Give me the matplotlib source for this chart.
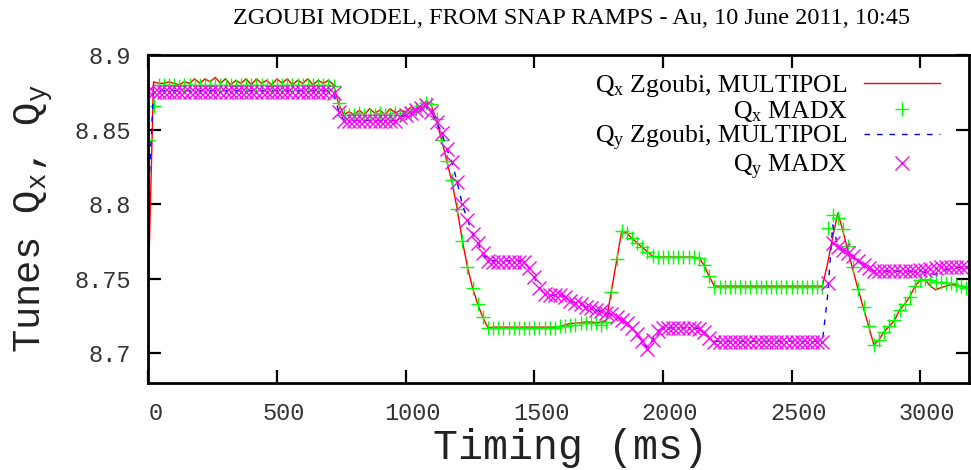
import numpy as np
import matplotlib
matplotlib.use('Agg')
import matplotlib.pyplot as plt
import matplotlib.transforms as mtransforms

plt.rcParams['mathtext.fontset'] = 'custom'
plt.rcParams['mathtext.rm'] = 'Liberation Serif'
plt.rcParams['mathtext.tt'] = 'Liberation Mono'

# timing grid (ms), one sample every 20 ms
timing = np.arange(0, 3200, 20)

# Qx, MADX (green +)
qx_madx = [
    8.843, 8.866, 8.880, 8.880, 8.880, 8.880, 8.879, 8.880, 8.880, 8.880,   # 0-180
    8.880, 8.880, 8.879, 8.880, 8.880, 8.880, 8.880, 8.879, 8.880, 8.880,   # 200-380
    8.880, 8.880, 8.880, 8.880, 8.879, 8.880, 8.880, 8.880, 8.880, 8.880,   # 400-580
    8.880, 8.880, 8.880, 8.880, 8.880, 8.880, 8.879, 8.868, 8.860, 8.860,   # 600-780
    8.860, 8.861, 8.860, 8.860, 8.860, 8.861, 8.860, 8.860, 8.861, 8.860,   # 800-980
    8.861, 8.862, 8.864, 8.866, 8.868, 8.867, 8.857, 8.843, 8.829, 8.816,   # 1000-1180
    8.797, 8.775, 8.758, 8.744, 8.733, 8.7245, 8.717, 8.717, 8.717, 8.717,  # 1200-1380
    8.717, 8.717, 8.717, 8.717, 8.717, 8.717, 8.717, 8.717, 8.717, 8.717,   # 1400-1580
    8.718, 8.718, 8.719, 8.719, 8.720, 8.720, 8.720, 8.720, 8.719, 8.721,   # 1600-1780
    8.741, 8.763, 8.782, 8.7805, 8.777, 8.774, 8.771, 8.768, 8.765, 8.7645, # 1800-1980
    8.7645, 8.7645, 8.7645, 8.7645, 8.7645, 8.7645, 8.7645, 8.764, 8.759, 8.7515,  # 2000-2180
    8.7447, 8.7447, 8.7447, 8.7447, 8.7447, 8.7447, 8.7447, 8.7447, 8.7447, 8.7447,  # 2200-2380
    8.7447, 8.7447, 8.7447, 8.7447, 8.7447, 8.7447, 8.7447, 8.7447, 8.7447, 8.7447,  # 2400-2580
    8.7447, 8.7447, 8.784, 8.793, 8.791, 8.783, 8.772, 8.758, 8.743, 8.731,  # 2600-2780
    8.718, 8.7056, 8.709, 8.7145, 8.718, 8.722, 8.729, 8.733, 8.738, 8.745, # 2800-2980
    8.749, 8.750, 8.749, 8.748, 8.748, 8.747, 8.747, 8.746, 8.745, 8.744,   # 3000-3180
]

# Qx, Zgoubi MULTIPOL (red line)
qx_zgoubi = [
    8.745, 8.882, 8.881, 8.881, 8.882, 8.881, 8.880, 8.882, 8.881, 8.884,
    8.881, 8.884, 8.882, 8.885, 8.881, 8.884, 8.880, 8.883, 8.881, 8.884,
    8.880, 8.884, 8.881, 8.883, 8.880, 8.884, 8.881, 8.884, 8.880, 8.883,
    8.881, 8.884, 8.880, 8.883, 8.881, 8.883, 8.880, 8.867, 8.860, 8.862,
    8.860, 8.863, 8.860, 8.864, 8.861, 8.863, 8.860, 8.864, 8.861, 8.863,
    8.862, 8.865, 8.863, 8.866, 8.869, 8.866, 8.856, 8.843, 8.829, 8.815,
    8.797, 8.776, 8.758, 8.744, 8.733, 8.724, 8.717, 8.7175, 8.7175, 8.7175,
    8.7175, 8.7175, 8.7175, 8.7175, 8.7175, 8.7175, 8.7175, 8.7175, 8.7175, 8.7175,
    8.718, 8.719, 8.720, 8.720, 8.7205, 8.721, 8.721, 8.7205, 8.721, 8.722,
    8.742, 8.762, 8.782, 8.7805, 8.777, 8.774, 8.771, 8.768, 8.765, 8.7645,
    8.7645, 8.7645, 8.7645, 8.7645, 8.7645, 8.7645, 8.7645, 8.764, 8.759, 8.7515,
    8.745, 8.745, 8.745, 8.745, 8.745, 8.745, 8.745, 8.745, 8.745, 8.745,
    8.745, 8.745, 8.745, 8.745, 8.745, 8.745, 8.745, 8.745, 8.745, 8.745,
    8.745, 8.745, 8.760, 8.778, 8.794, 8.782, 8.768, 8.755, 8.742, 8.730,
    8.718, 8.7056, 8.709, 8.7145, 8.718, 8.722, 8.729, 8.733, 8.738, 8.745,
    8.749, 8.749, 8.745, 8.7425, 8.744, 8.745, 8.746, 8.746, 8.745, 8.744,
]

# Qy, MADX (magenta x)
qy_madx = [
    8.876, 8.875, 8.875, 8.875, 8.875, 8.875, 8.875, 8.875, 8.875, 8.875,
    8.875, 8.875, 8.875, 8.875, 8.875, 8.875, 8.875, 8.875, 8.875, 8.875,
    8.875, 8.875, 8.875, 8.875, 8.875, 8.875, 8.875, 8.875, 8.875, 8.875,
    8.875, 8.875, 8.875, 8.875, 8.875, 8.875, 8.8745, 8.862, 8.8555, 8.8555,
    8.8555, 8.8555, 8.8555, 8.8555, 8.8555, 8.8555, 8.8555, 8.8555, 8.8555, 8.8585,
    8.860, 8.861, 8.863, 8.8645, 8.8666, 8.862, 8.855, 8.848, 8.837, 8.828,
    8.815, 8.800, 8.7895, 8.780, 8.774, 8.767, 8.762, 8.7615, 8.7615, 8.7615,
    8.7615, 8.7615, 8.7615, 8.7615, 8.757, 8.751, 8.744, 8.740, 8.739, 8.739,
    8.739, 8.738, 8.735, 8.734, 8.733, 8.731, 8.730, 8.729, 8.728, 8.727,
    8.726, 8.724, 8.7225, 8.720, 8.717, 8.713, 8.708, 8.7025, 8.709, 8.715,
    8.7168, 8.7168, 8.7168, 8.7168, 8.7168, 8.7168, 8.7168, 8.7165, 8.714, 8.7105,
    8.7078, 8.7078, 8.7078, 8.7078, 8.7078, 8.7078, 8.7078, 8.7078, 8.7078, 8.7078,
    8.7078, 8.7078, 8.7078, 8.7078, 8.7078, 8.7078, 8.7078, 8.7078, 8.7078, 8.7078,
    8.7078, 8.7078, 8.747, 8.774, 8.7715, 8.769, 8.767, 8.765, 8.762, 8.7595,
    8.757, 8.755, 8.755, 8.755, 8.755, 8.755, 8.755, 8.755, 8.755, 8.755,
    8.7555, 8.756, 8.7565, 8.757, 8.7575, 8.758, 8.758, 8.758, 8.758, 8.758,
]

# Qy, Zgoubi MULTIPOL (blue dashed)
qy_zgoubi = [
    8.805, 8.876, 8.876, 8.876, 8.876, 8.876, 8.876, 8.876, 8.876, 8.876,
    8.876, 8.876, 8.876, 8.876, 8.876, 8.876, 8.876, 8.876, 8.876, 8.876,
    8.876, 8.876, 8.876, 8.876, 8.876, 8.876, 8.876, 8.876, 8.876, 8.876,
    8.876, 8.876, 8.876, 8.876, 8.876, 8.876, 8.875, 8.862, 8.856, 8.856,
    8.856, 8.856, 8.856, 8.856, 8.856, 8.856, 8.856, 8.856, 8.856, 8.858,
    8.860, 8.861, 8.863, 8.865, 8.866, 8.862, 8.855, 8.848, 8.837, 8.828,
    8.815, 8.800, 8.790, 8.780, 8.774, 8.767, 8.762, 8.762, 8.762, 8.762,
    8.762, 8.762, 8.762, 8.762, 8.757, 8.751, 8.744, 8.740, 8.739, 8.739,
    8.739, 8.738, 8.735, 8.734, 8.733, 8.731, 8.730, 8.729, 8.728, 8.727,
    8.726, 8.724, 8.7225, 8.720, 8.717, 8.713, 8.708, 8.703, 8.709, 8.715,
    8.717, 8.717, 8.717, 8.717, 8.717, 8.717, 8.717, 8.7165, 8.714, 8.7105,
    8.708, 8.708, 8.708, 8.708, 8.708, 8.708, 8.708, 8.708, 8.708, 8.708,
    8.708, 8.708, 8.708, 8.708, 8.708, 8.708, 8.708, 8.708, 8.708, 8.708,
    8.708, 8.708, 8.738, 8.786, 8.772, 8.769, 8.767, 8.765, 8.762, 8.7595,
    8.757, 8.755, 8.755, 8.755, 8.755, 8.755, 8.755, 8.755, 8.755, 8.755,
    8.755, 8.754, 8.753, 8.753, 8.754, 8.756, 8.757, 8.757, 8.758, 8.758,
]

title = 'ZGOUBI MODEL, FROM SNAP RAMPS - Au, 10 June 2011, 10:45'
x_ticks = [0, 500, 1000, 1500, 2000, 2500, 3000]
y_ticks = [8.7, 8.75, 8.8, 8.85, 8.9]
y_tick_labels = ['8.7', '8.75', '8.8', '8.85', '8.9']

fig = plt.figure(figsize=(9.71, 4.70), dpi=100)
ax = fig.add_axes([0.152, 0.185, 0.846, 0.698])

ax.plot(timing, qx_zgoubi, color='#ff0000', lw=1.0,
        label=r'$\mathrm{Q_x}$ Zgoubi, MULTIPOL')
ax.plot(timing, qx_madx, ls='none', marker='+', color='#00ff00',
        ms=10, mew=1.0, label=r'$\mathrm{Q_x}$ MADX')
ax.plot(timing, qy_zgoubi, color='#0000ff', lw=1.0, dashes=(4, 5),
        label=r'$\mathrm{Q_y}$ Zgoubi, MULTIPOL')
ax.plot(timing, qy_madx, ls='none', marker='x', color='#ff00ff',
        ms=9.5, mew=1.0, label=r'$\mathrm{Q_y}$ MADX')

ax.set_xlim(-3, 3190)
ax.set_ylim(8.68, 8.9)
ax.set_xticks(x_ticks)
ax.set_xticklabels([str(v) for v in x_ticks])
ax.set_yticks(y_ticks)
ax.set_yticklabels(y_tick_labels)

for s in ax.spines.values():
    s.set_linewidth(2.0)
ax.tick_params(direction='in', length=9.5, width=1.6, top=True, right=True,
               labelsize=17, colors='black', labelcolor='#333333')
ax.tick_params(axis='x', pad=14)
ax.tick_params(axis='y', pad=12)
for lbl in ax.get_xticklabels() + ax.get_yticklabels():
    lbl.set_family('Liberation Mono')
# gnuplot puts the x labels a few pixels right of the tick
offset = mtransforms.ScaledTranslation(7 / 100, 0, fig.dpi_scale_trans)
for lbl in ax.get_xticklabels():
    lbl.set_transform(lbl.get_transform() + offset)

ax.set_xlabel('Timing (ms)', family='Liberation Mono', fontsize=30, labelpad=2,
              color='#222222', x=0.515)
ax.set_ylabel(r'Tunes $\mathtt{Q_x}$, $\mathtt{Q_y}$', family='Liberation Mono',
              fontsize=28, labelpad=14, color='#222222')

fig.text(572 / 971, 1 - 18 / 470, title, family='Liberation Serif', fontsize=17.5,
         ha='center', va='center')

leg = ax.legend(loc='upper right', bbox_to_anchor=(0.98, 0.985), frameon=False,
                markerfirst=False, handlelength=2.95,
                handletextpad=0.62, labelspacing=0.0, borderpad=0,
                prop={'family': 'Liberation Serif', 'size': 18.5})

fig.savefig('out.png', dpi=100)
